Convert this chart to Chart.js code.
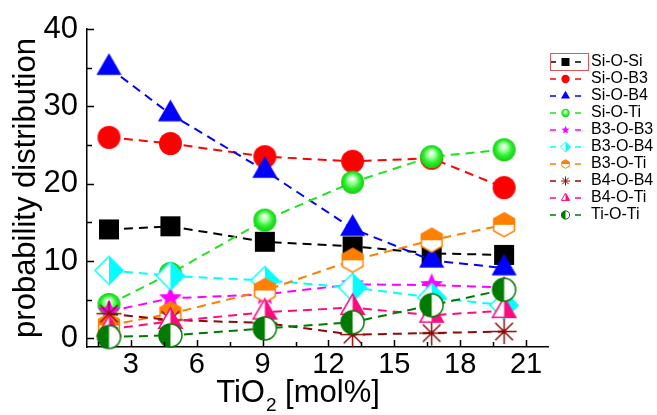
<!DOCTYPE html>
<html>
<head>
<meta charset="utf-8">
<title>Bond probability distribution vs TiO2</title>
<script src="https://cdn.jsdelivr.net/npm/chart.js@4.4.1/dist/chart.umd.min.js"></script>
<style>
  html, body { margin: 0; padding: 0; background: #fff; }
  #wrap { width: 657px; height: 415px; }
</style>
</head>
<body>
<div id="wrap"><canvas id="chart" width="657" height="415"></canvas></div>
<script>
// TiO2 content of the glasses (mol%)
const tio2 = [2, 4.8, 9.1, 13.1, 16.7, 20];

// probability of each bridging-oxygen linkage (%)
const siOSi = [14.1, 14.5, 12.5, 11.9, 11.0, 10.8];
const siOB3 = [26.0, 25.2, 23.5, 22.9, 23.3, 19.5];
const siOB4 = [35.0, 29.0, 21.7, 14.2, 10.1, 9.1];
const siOTi = [4.4, 8.4, 15.3, 20.2, 23.5, 24.4];
const b3OB3 = [3.5, 5.2, 5.7, 7.0, 6.9, 6.6];
const b3OB4 = [8.8, 8.1, 7.5, 6.6, 5.3, 4.3];
const b3OTi = [1.7, 3.2, 6.2, 10.1, 12.7, 14.7];
const b4OB4 = [3.2, 2.4, 2.0, 0.5, 0.7, 0.9];
const b4OTi = [1.2, 2.2, 3.4, 4.0, 3.0, 3.6];
const tiOTi = [0.2, 0.4, 1.3, 2.1, 4.3, 6.3];

const seriesNames = ["Si-O-Si", "Si-O-B3", "Si-O-B4", "Si-O-Ti", "B3-O-B3",
                     "B3-O-B4", "B3-O-Ti", "B4-O-B4", "B4-O-Ti", "Ti-O-Ti"];
const seriesValues = [siOSi, siOB3, siOB4, siOTi, b3OB3, b3OB4, b3OTi, b4OB4, b4OTi, tiOTi];

const xTicks = [3, 6, 9, 12, 15, 18, 21];
const xMinorTicks = [1.5, 4.5, 7.5, 10.5, 13.5, 16.5, 19.5];
const yTicks = [0, 10, 20, 30, 40];
const yMinorTicks = [5, 15, 25, 35];

const FONT = "'Liberation Sans', Arial, Helvetica, sans-serif";

// ---- marker shapes, drawn around (0,0) ----
function polygon(ctx, pts) {
  ctx.beginPath();
  pts.forEach(([x, y], i) => (i ? ctx.lineTo(x, y) : ctx.moveTo(x, y)));
  ctx.closePath();
}
function triPts(r) {
  const s = r * Math.sin(Math.PI / 3);
  return [[0, -r], [s, r / 2], [-s, r / 2]];
}

const shapes = {
  square(ctx, r, c) {
    ctx.fillStyle = c;
    ctx.fillRect(-r, -r, 2 * r, 2 * r);
  },
  circle(ctx, r, c) {
    ctx.beginPath();
    ctx.arc(0, 0, r, 0, Math.PI * 2);
    ctx.fillStyle = c;
    ctx.fill();
  },
  triangle(ctx, r, c) {
    polygon(ctx, triPts(r));
    ctx.fillStyle = c;
    ctx.fill();
  },
  ball(ctx, r) {
    const g = ctx.createRadialGradient(-r * 0.05, -r * 0.35, r * 0.05, 0, 0, r);
    g.addColorStop(0, "#ffffff");
    g.addColorStop(0.3, "#a6ffa6");
    g.addColorStop(0.65, "#2cf02c");
    g.addColorStop(1, "#14cc14");
    ctx.beginPath();
    ctx.arc(0, 0, r, 0, Math.PI * 2);
    ctx.fillStyle = g;
    ctx.fill();
  },
  star(ctx, r, c) {
    const pts = [];
    for (let k = 0; k < 10; k++) {
      const a = -Math.PI / 2 + k * Math.PI / 5;
      const rr = k % 2 ? r * 0.45 : r;
      pts.push([rr * Math.cos(a), rr * Math.sin(a)]);
    }
    polygon(ctx, pts);
    ctx.fillStyle = c;
    ctx.fill();
  },
  halfDiamond(ctx, r, c) {
    polygon(ctx, [[0, -r], [r, 0], [0, r], [-r, 0]]);
    ctx.fillStyle = "#fff";
    ctx.fill();
    polygon(ctx, [[0, -r], [r, 0], [0, r]]);
    ctx.fillStyle = c;
    ctx.fill();
    polygon(ctx, [[0, -r], [r, 0], [0, r], [-r, 0]]);
    ctx.strokeStyle = c;
    ctx.stroke();
  },
  halfHexagon(ctx, r, c) {
    const w = r * Math.cos(Math.PI / 6);
    const hex = [[0, -r], [w, -r / 2], [w, r / 2], [0, r], [-w, r / 2], [-w, -r / 2]];
    polygon(ctx, hex);
    ctx.fillStyle = "#fff";
    ctx.fill();
    polygon(ctx, [[-w, 0], [-w, -r / 2], [0, -r], [w, -r / 2], [w, 0]]);
    ctx.fillStyle = c;
    ctx.fill();
    polygon(ctx, hex);
    ctx.strokeStyle = c;
    ctx.stroke();
  },
  asterisk(ctx, r, c) {
    ctx.beginPath();
    for (let k = 0; k < 4; k++) {
      const a = k * Math.PI / 4;
      ctx.moveTo(-r * Math.cos(a), -r * Math.sin(a));
      ctx.lineTo(r * Math.cos(a), r * Math.sin(a));
    }
    ctx.strokeStyle = c;
    ctx.stroke();
  },
  halfTriangle(ctx, r, c) {
    const pts = triPts(r);
    polygon(ctx, pts);
    ctx.fillStyle = "#fff";
    ctx.fill();
    polygon(ctx, [pts[0], pts[1], [0, r / 2]]);
    ctx.fillStyle = c;
    ctx.fill();
    polygon(ctx, pts);
    ctx.strokeStyle = c;
    ctx.stroke();
  },
  halfCircle(ctx, r, c) {
    ctx.beginPath();
    ctx.arc(0, 0, r, 0, Math.PI * 2);
    ctx.fillStyle = "#fff";
    ctx.fill();
    ctx.beginPath();
    ctx.arc(0, 0, r, Math.PI / 2, Math.PI * 1.5);
    ctx.closePath();
    ctx.fillStyle = c;
    ctx.fill();
    ctx.beginPath();
    ctx.arc(0, 0, r, 0, Math.PI * 2);
    ctx.strokeStyle = c;
    ctx.stroke();
  }
};

// per-series look: colour, marker shape, marker radius
const seriesStyles = [
  { color: "#000000", shape: "square", r: 10 },
  { color: "#ff0000", shape: "circle", r: 11.5 },
  { color: "#0000ff", shape: "triangle", r: 14.5 },
  { color: "#22e022", shape: "ball", r: 11.5 },
  { color: "#ff00ff", shape: "star", r: 12 },
  { color: "#00ffff", shape: "halfDiamond", r: 14 },
  { color: "#ff8000", shape: "halfHexagon", r: 12 },
  { color: "#8b0a0a", shape: "asterisk", r: 12.5 },
  { color: "#ff0a80", shape: "halfTriangle", r: 13.5 },
  { color: "#007a00", shape: "halfCircle", r: 11.5 }
];

function markerImage(st) {
  const size = Math.ceil(st.r * 2 + 4);
  const c = document.createElement("canvas");
  c.width = size; c.height = size;
  const ctx = c.getContext("2d");
  ctx.translate(size / 2, size / 2);
  ctx.lineWidth = 1.5;
  shapes[st.shape](ctx, st.r, st.color);
  return c;
}

// legend sample: short dash, small marker, short dash
function legendIcon(st) {
  const c = document.createElement("canvas");
  c.width = 34; c.height = 16;
  const ctx = c.getContext("2d");
  ctx.strokeStyle = st.color;
  ctx.lineWidth = 1.5;
  ctx.beginPath();
  ctx.moveTo(1, 8); ctx.lineTo(7, 8);
  ctx.moveTo(26, 8); ctx.lineTo(32, 8);
  ctx.stroke();
  ctx.translate(16.5, 8);
  ctx.lineWidth = 1;
  shapes[st.shape](ctx, Math.max(4, st.r * 0.36), st.color);
  return c;
}

const legendIcons = seriesStyles.map(legendIcon);

const datasets = seriesNames.map((name, i) => {
  const st = seriesStyles[i];
  return {
    label: name,
    data: tio2.map((x, k) => ({ x: x, y: seriesValues[i][k] })),
    borderColor: st.color,
    backgroundColor: st.color,
    borderWidth: 2,
    borderDash: [9, 6],
    pointStyle: markerImage(st),
    pointRadius: st.r,
    tension: 0,
    clip: false,
    order: seriesNames.length - i
  };
});

// inward ticks, the x-axis title with its subscript, the red frame round the first legend entry
const axisDecor = {
  id: "axisDecor",
  afterLayout(chart) {
    const lg = chart.legend;
    const dx = chart.chartArea.right - lg.left;
    lg.left += dx; lg.right += dx;
    lg.top += 24; lg.bottom += 24;
  },
  afterDraw(chart) {
    const { ctx, chartArea, scales } = chart;
    ctx.save();
    ctx.strokeStyle = "#000";
    ctx.lineWidth = 1.5;
    ctx.beginPath();
    const xt = (v, len) => {
      const p = Math.round(scales.x.getPixelForValue(v)) + 0.5;
      ctx.moveTo(p, chartArea.bottom);
      ctx.lineTo(p, chartArea.bottom - len);
    };
    const yt = (v, len) => {
      const p = Math.round(scales.y.getPixelForValue(v)) + 0.5;
      ctx.moveTo(chartArea.left, p);
      ctx.lineTo(chartArea.left + len, p);
    };
    xTicks.forEach(v => xt(v, 7));
    xMinorTicks.forEach(v => xt(v, 5));
    yTicks.forEach(v => yt(v, 7));
    yMinorTicks.forEach(v => yt(v, 5));
    ctx.stroke();

    // "TiO2 [mol%]" with a real subscript
    const big = "31px " + FONT, small = "19px " + FONT;
    const base = chart.height - 13;
    ctx.fillStyle = "#000";
    ctx.textBaseline = "alphabetic";
    ctx.textAlign = "left";
    ctx.font = big;
    const wA = ctx.measureText("TiO").width, wC = ctx.measureText(" [mol%]").width;
    ctx.font = small;
    const wB = ctx.measureText("2").width;
    let x = (chartArea.left + chartArea.right) / 2 - 20 - (wA + wB + wC) / 2;
    ctx.font = big;
    ctx.fillText("TiO", x, base);
    x += wA;
    ctx.font = small;
    ctx.fillText("2", x + 1, base + 9);
    x += wB + 1;
    ctx.font = big;
    ctx.fillText(" [mol%]", x, base);

    const lg = chart.legend;
    const pad = lg.options.labels.padding;
    ctx.strokeStyle = "#e0555a";
    ctx.lineWidth = 1;
    ctx.strokeRect(Math.round(lg.left) + 2.5, Math.round(lg.top + pad) - 0.5, 38, 17);
    ctx.restore();
  }
};

new Chart(document.getElementById("chart"), {
  type: "line",
  data: { datasets: datasets },
  plugins: [axisDecor],
  options: {
    responsive: false,
    animation: false,
    events: [],
    layout: { padding: { top: 29, right: 0, left: 0, bottom: 0 } },
    plugins: {
      tooltip: { enabled: false },
      legend: {
        position: "right",
        align: "start",
        fullSize: false,
        maxWidth: 109,
        labels: {
          usePointStyle: true,
          pointStyleWidth: 34,
          padding: 1,
          color: "#1a1a1a",
          font: { family: FONT, size: 16 },
          generateLabels: chart => chart.data.datasets.map((ds, i) => ({
            text: ds.label,
            pointStyle: legendIcons[i],
            fillStyle: ds.borderColor,
            strokeStyle: ds.borderColor,
            lineWidth: 0,
            hidden: false,
            datasetIndex: i
          }))
        }
      }
    },
    scales: {
      x: {
        type: "linear",
        min: 1,
        max: 22,
        afterBuildTicks: s => { s.ticks = xTicks.map(v => ({ value: v })); },
        afterFit: s => { s.height = 68; },
        grid: { display: false, drawTicks: false },
        border: { display: true, color: "#000", width: 1.5 },
        ticks: { color: "#000", padding: 1, maxRotation: 0, font: { family: FONT, size: 29 } }
      },
      y: {
        min: -1.1,
        max: 40,
        afterBuildTicks: s => { s.ticks = yTicks.map(v => ({ value: v })); },
        afterFit: s => { s.width = 87; },
        grid: { display: false, drawTicks: false },
        border: { display: true, color: "#000", width: 1.5 },
        ticks: { color: "#000", padding: 9, font: { family: FONT, size: 31 } },
        title: {
          display: true,
          text: "probability distribution",
          color: "#000",
          font: { family: FONT, size: 31 },
          padding: { top: 8, bottom: 0 }
        }
      }
    }
  }
});
</script>
</body>
</html>
